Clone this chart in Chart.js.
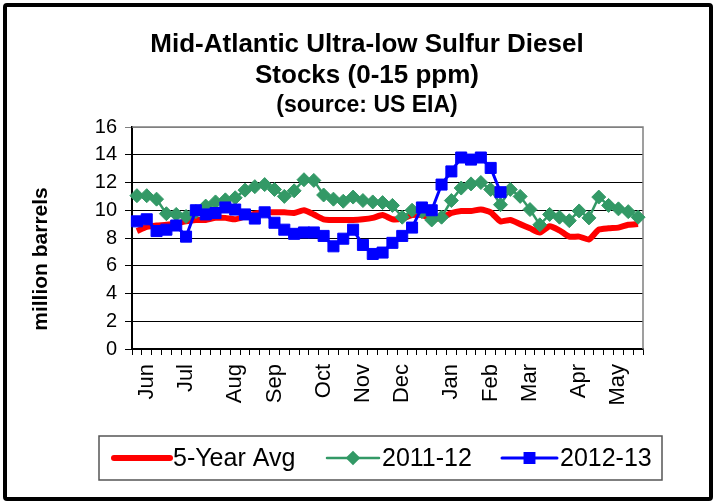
<!DOCTYPE html>
<html>
<head>
<meta charset="utf-8">
<script src="https://cdn.jsdelivr.net/npm/chart.js@4/dist/chart.umd.min.js"></script>
<style>
    html, body { margin: 0; padding: 0; background: #fff; }
    #wrap { position: relative; width: 716px; height: 503px; }
    #frame {
        position: absolute; left: 3px; top: 3px; width: 702px; height: 490px;
        border: 4px solid #000; border-radius: 4px; pointer-events: none;
    }
    canvas { position: absolute; left: 0; top: 0; }
</style>
</head>
<body>
<div id="wrap">
    <canvas id="chart" width="716" height="503"></canvas>
    <div id="frame"></div>
</div>
<script>
// weekly stocks, million barrels, June .. May (52 weeks)
const monthNames = ['Jun', 'Jul', 'Aug', 'Sep', 'Oct', 'Nov', 'Dec', 'Jan', 'Feb', 'Mar', 'Apr', 'May'];
const monthWeek = [1, 5, 10, 14, 19, 23, 27, 32, 36, 40, 45, 49];
const yTicks = [0, 2, 4, 6, 8, 10, 12, 14, 16];

const avg5yr = [
    8.5, 8.8, 8.9, 8.95, 9.05, 9.2, 9.3, 9.3, 9.45, 9.45,
    9.35, 9.55, 9.75, 9.85, 9.85, 9.85, 9.8, 10.0, 9.7, 9.35,
    9.3, 9.3, 9.3, 9.35, 9.45, 9.65, 9.35, 9.4, 9.65, 9.65,
    9.4, 9.45, 9.8, 9.95, 9.95, 10.05, 9.85, 9.2, 9.3, 9.0,
    8.7, 8.4, 8.85, 8.55, 8.1, 8.1, 7.9, 8.6, 8.7, 8.75,
    8.95, 9.0
];
const y2011 = [
    11.05, 11.05, 10.8, 9.75, 9.7, 9.55, 9.9, 10.3, 10.6, 10.75,
    10.9, 11.45, 11.7, 11.85, 11.5, 11.0, 11.4, 12.2, 12.15, 11.1,
    10.8, 10.65, 10.95, 10.7, 10.6, 10.55, 10.35, 9.5, 10.0, 9.9,
    9.3, 9.5, 10.7, 11.6, 11.9, 12.0, 11.5, 10.4, 11.5, 11.0,
    10.05, 8.95, 9.7, 9.5, 9.25, 9.95, 9.45, 10.95, 10.35, 10.1,
    9.9, 9.5
];
const y2012 = [
    9.2, 9.35, 8.5, 8.6, 8.9, 8.1, 10.0, 9.7, 9.8, 10.2,
    10.05, 9.7, 9.4, 9.85, 9.1, 8.6, 8.3, 8.4, 8.4, 8.15,
    7.4, 7.95, 8.6, 7.5, 6.85, 6.95, 7.65, 8.15, 8.75, 10.2,
    10.0, 11.85, 12.8, 13.8, 13.65, 13.8, 13.05, 11.3
];

let categories = avg5yr.map(function () { return ''; });
monthWeek.forEach(function (w, i) { categories[w] = monthNames[i]; });

const FONT = 'Arial, "Liberation Sans", sans-serif';

// gray top and right edge of the plot area
const plotEdge = {
    id: 'plotEdge',
    beforeDatasetsDraw(chart) {
        const {ctx, chartArea: a} = chart;
        ctx.save();
        ctx.strokeStyle = '#808080';
        ctx.lineWidth = 1.5;
        ctx.beginPath();
        ctx.moveTo(a.left, a.top);
        ctx.lineTo(a.right, a.top);
        ctx.lineTo(a.right, a.bottom);
        ctx.stroke();
        ctx.restore();
    }
};

// y title sits a bit lower than the middle of the axis
const yTitle = {
    id: 'yTitle',
    afterDraw(chart) {
        const ctx = chart.ctx;
        ctx.save();
        ctx.translate(41, 259);
        ctx.rotate(-Math.PI / 2);
        ctx.font = 'bold 21px ' + FONT;
        ctx.fillStyle = '#000';
        ctx.textAlign = 'center';
        ctx.textBaseline = 'middle';
        ctx.fillText('million barrels', 0, 0);
        ctx.restore();
    }
};

// boxed legend: line + marker + label
const boxLegend = {
    id: 'boxLegend',
    afterDraw(chart) {
        const ctx = chart.ctx;
        const box = {x: 99, y: 436, w: 563, h: 44};
        const items = [
            {x: 114, w: 56},
            {x: 327, w: 52},
            {x: 502, w: 55}
        ];
        const cy = box.y + box.h / 2;
        ctx.save();
        ctx.strokeStyle = '#555';
        ctx.lineWidth = 1.5;
        ctx.strokeRect(box.x, box.y, box.w, box.h);
        chart.data.datasets.forEach(function (ds, i) {
            const it = items[i];
            ctx.strokeStyle = ds.borderColor;
            ctx.lineWidth = ds.borderWidth;
            ctx.lineCap = 'round';
            ctx.beginPath();
            ctx.moveTo(it.x, cy);
            ctx.lineTo(it.x + it.w, cy);
            ctx.stroke();
            if (ds.pointRadius > 0) {
                Chart.helpers.drawPoint(ctx, {
                    pointStyle: ds.pointStyle, radius: ds.pointRadius - 1.5,
                    borderWidth: 1, rotation: 0
                }, it.x + it.w / 2, cy);
                ctx.fillStyle = ds.backgroundColor;
                ctx.fill();
            }
            ctx.fillStyle = '#000';
            ctx.font = '25px ' + FONT;
            ctx.textAlign = 'left';
            ctx.textBaseline = 'middle';
            ctx.fillText(ds.label, it.x + it.w + 3, cy + 1);
        });
        ctx.restore();
    }
};

let chart = new Chart(document.getElementById('chart').getContext('2d'), {
    type: 'line',
    data: {
        labels: categories,
        datasets: [
            {
                label: '5-Year Avg', data: avg5yr, order: 3,
                borderColor: '#ff0000', backgroundColor: '#ff0000', borderWidth: 6,
                pointRadius: 0, tension: 0.2
            },
            {
                label: '2011-12', data: y2011, order: 2,
                borderColor: '#339966', backgroundColor: '#339966', borderWidth: 2.5,
                pointStyle: 'rectRot', pointRadius: 7, pointBorderWidth: 1
            },
            {
                label: '2012-13', data: y2012, order: 1,
                borderColor: '#0000ff', backgroundColor: '#0000ff', borderWidth: 3,
                pointStyle: 'rect', pointRadius: 7.8, pointBorderWidth: 1
            }
        ]
    },
    options: {
        responsive: false,
        animation: false,
        devicePixelRatio: 1,
        // wide left padding keeps the title centred where the original has it
        layout: {padding: {left: 91, right: 73, top: 29, bottom: 0}},
        plugins: {
            legend: {display: false},
            tooltip: {enabled: false},
            title: {
                display: true,
                text: ['Mid-Atlantic Ultra-low Sulfur Diesel', 'Stocks (0-15 ppm)'],
                color: '#000',
                font: {family: FONT, size: 26, weight: 'bold', lineHeight: 1.2},
                padding: {top: 0, bottom: 0}
            },
            subtitle: {
                display: true,
                text: '(source: US EIA)',
                color: '#000',
                font: {family: FONT, size: 23, weight: 'bold', lineHeight: 1.2},
                padding: {top: 0, bottom: 8}
            }
        },
        scales: {
            x: {
                offset: true,
                grid: {offset: true, drawOnChartArea: false, color: '#000', tickLength: 6},
                border: {color: '#000', width: 1.5},
                ticks: {
                    autoSkip: false, maxRotation: 90, minRotation: 90, padding: 9,
                    color: '#000', font: {family: FONT, size: 22}
                },
                afterFit(scale) { scale.height = 154; }
            },
            y: {
                min: 0, max: 16,
                afterBuildTicks(scale) { scale.ticks = yTicks.map(function (v) { return {value: v}; }); },
                grid: {
                    color: function (c) { return c.tick && c.tick.value === 16 ? '#808080' : '#000'; },
                    tickLength: 7
                },
                border: {color: '#000', width: 2},
                ticks: {color: '#000', padding: 8, font: {family: FONT, size: 20}},
                afterFit(scale) { scale.width = 41; }
            }
        }
    },
    plugins: [plotEdge, yTitle, boxLegend]
});
</script>
</body>
</html>
